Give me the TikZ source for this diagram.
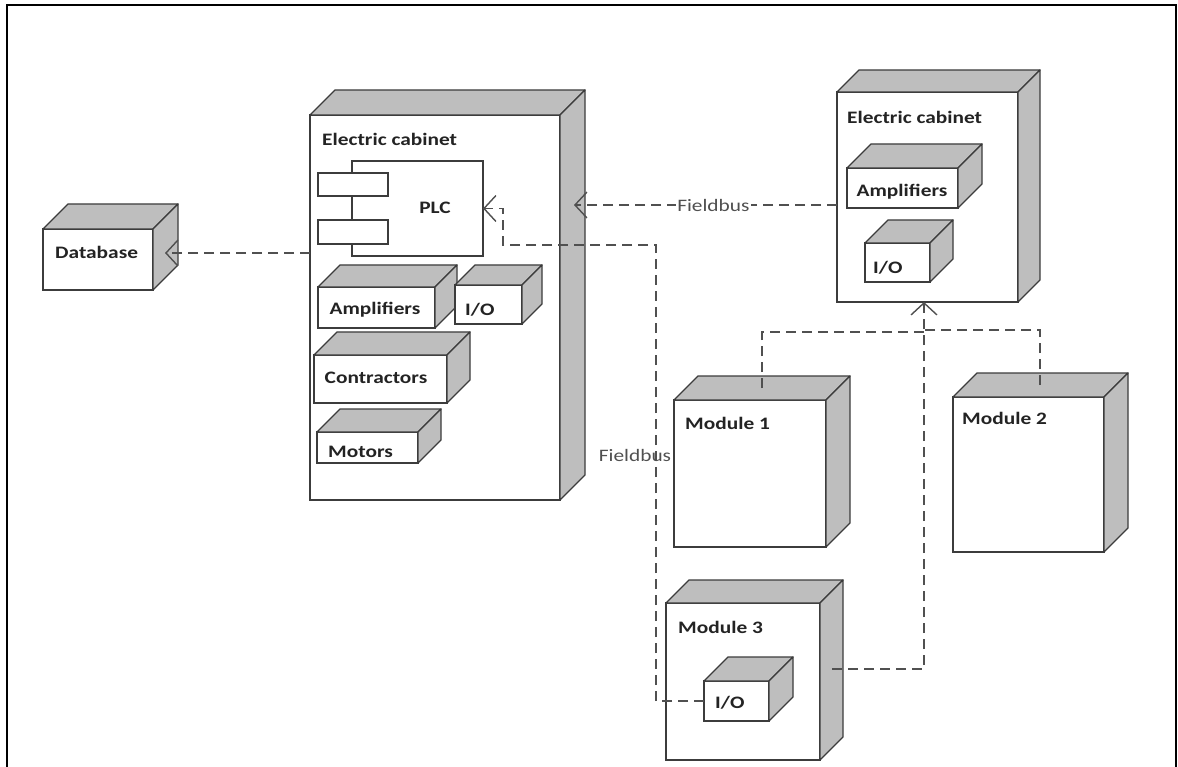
\documentclass[tikz,border=0pt]{standalone}
\usepackage{fontspec}
\newfontfamily\labfont[FakeStretch=1.22]{Carlito}
\usetikzlibrary{arrows.meta,calc}
\definecolor{facegray}{RGB}{190,190,190}
\definecolor{edgecol}{RGB}{60,60,60}
\definecolor{conncol}{RGB}{80,80,80}
\definecolor{txtcol}{RGB}{35,35,35}
\tikzset{
  front/.style={draw=edgecol, line width=1.3pt, fill=white, rectangle, inner sep=0pt, outer sep=0pt, anchor=north west},
  sideface/.style={draw=edgecol, line width=1.3pt, fill=facegray, line join=round},
  lab/.style={font=\labfont\bfseries\fontsize{17.5}{20}\selectfont, text=txtcol, inner sep=0pt, anchor=west},
  labc/.style={lab, anchor=center},
  fbl/.style={font=\labfont\fontsize{17.5}{20}\selectfont, text=conncol, inner sep=1pt},
  conn/.style={draw=conncol, line width=1.6pt, dash pattern=on 10pt off 6pt},
  tip/.style={-{Straight Barb[length=12pt,width=26pt,line width=1.4pt]}},
}
\newcommand\cubebox[6]{%
  \node[front, minimum width=#4pt, minimum height=#5pt] (#1) at (#2,#3) {};
  \draw[sideface] (#1.north west) -- ++(#6,-#6) -- ($(#1.north east)+(#6,-#6)$) -- (#1.north east) -- cycle;
  \draw[sideface] (#1.north east) -- ++(#6,-#6) -- ($(#1.south east)+(#6,-#6)$) -- (#1.south east) -- cycle;
}
\begin{document}
\begin{tikzpicture}[x=1pt, y=-1pt]
\useasboundingbox (0,0) rectangle (1178,767);
% outer frame (bottom cut off)
\draw[line width=2.5pt] (7,767) -- (7,5) -- (1176,5) -- (1176,767);

% left electric cabinet
\cubebox{cab1}{310}{115}{250}{385}{25}
\node[lab] (cab1lab) at (322,139) {Electric cabinet};
% PLC component
\node[front, minimum width=131pt, minimum height=95pt] (plc) at (352,161) {};
\node[front, minimum width=70pt, minimum height=23pt] (plcA) at (318,173) {};
\node[front, minimum width=70pt, minimum height=24pt] (plcB) at (318,220) {};
\node[labc] (plclab) at (435,208) {PLC};
\cubebox{amp1}{318}{287}{117}{41}{22}
\node[labc] (amp1lab) at (375,310) {Amplifiers};
\cubebox{io1}{455}{285}{67}{39}{20}
\node[lab] (io1lab) at (465,310) {I/O};
\cubebox{contr}{314}{355}{133}{48}{23}
\node[labc] (contrlab) at (376,378) {Contractors};
\cubebox{mot}{317}{432}{101}{31}{23}
\node[lab] (motlab) at (328,452) {Motors};

% database
\cubebox{db}{43}{229}{110}{61}{25}
\node[lab] (dblab) at (55,252) {Database};

% right electric cabinet
\cubebox{cab2}{837}{92}{181}{210}{22}
\node[lab] (cab2lab) at (847,117) {Electric cabinet};
\cubebox{amp2}{847}{168}{111}{40}{24}
\node[labc] (amp2lab) at (902,192) {Amplifiers};
\cubebox{io2}{865}{243}{65}{39}{23}
\node[lab] (io2lab) at (873,268) {I/O};

% modules
\cubebox{mod1}{674}{400}{152}{147}{24}
\node[lab] (mod1lab) at (685,423) {Module 1};
\cubebox{mod2}{953}{397}{151}{155}{24}
\node[lab] (mod2lab) at (962,418) {Module 2};
\cubebox{mod3}{666}{603}{154}{157}{23}
\node[lab] (mod3lab) at (678,627) {Module 3};
\cubebox{io3}{704}{681}{65}{40}{24}
\node[lab] (io3lab) at (715,703) {I/O};

% connector coordinates
\coordinate (dbtip) at ($(db.north east)+(12,24)$);
\coordinate (fbtip) at ($(cab1.north east)+(14,90)$);
\coordinate (cab2tip) at ($(cab2.south west)+(87,0)$);
\coordinate (m1p) at ($(mod1.north west)+(88,-12)$);
\coordinate (m2p) at ($(mod2.north west)+(87,-12)$);
\coordinate (m3p) at ($(mod3.north east)+(12,66)$);
\coordinate (busA) at (656,245);
\coordinate (busB) at (503,245);
\coordinate (busC) at (503,208.5);

% connectors
\draw[conn,tip] (cab1.west |- dbtip) -- (dbtip);
\draw[conn,tip] (cab2.west |- fbtip) -- node[pos=0.47, fbl, fill=white] (fb1lab) {Fieldbus} (fbtip);
\draw[conn,tip] (io3.west) -| (busA) -- (busB) -- (busC) -- (plc.east);
\node[fbl] (fb2lab) at (635,455) {Fieldbus};
\draw[conn,tip] (m3p) -| (cab2tip);
\draw[conn] (m1p) |- ($(cab2tip)+(0,30)$);
\draw[conn] (m2p) |- ($(cab2tip)+(0,28)$);
\end{tikzpicture}
\end{document}
